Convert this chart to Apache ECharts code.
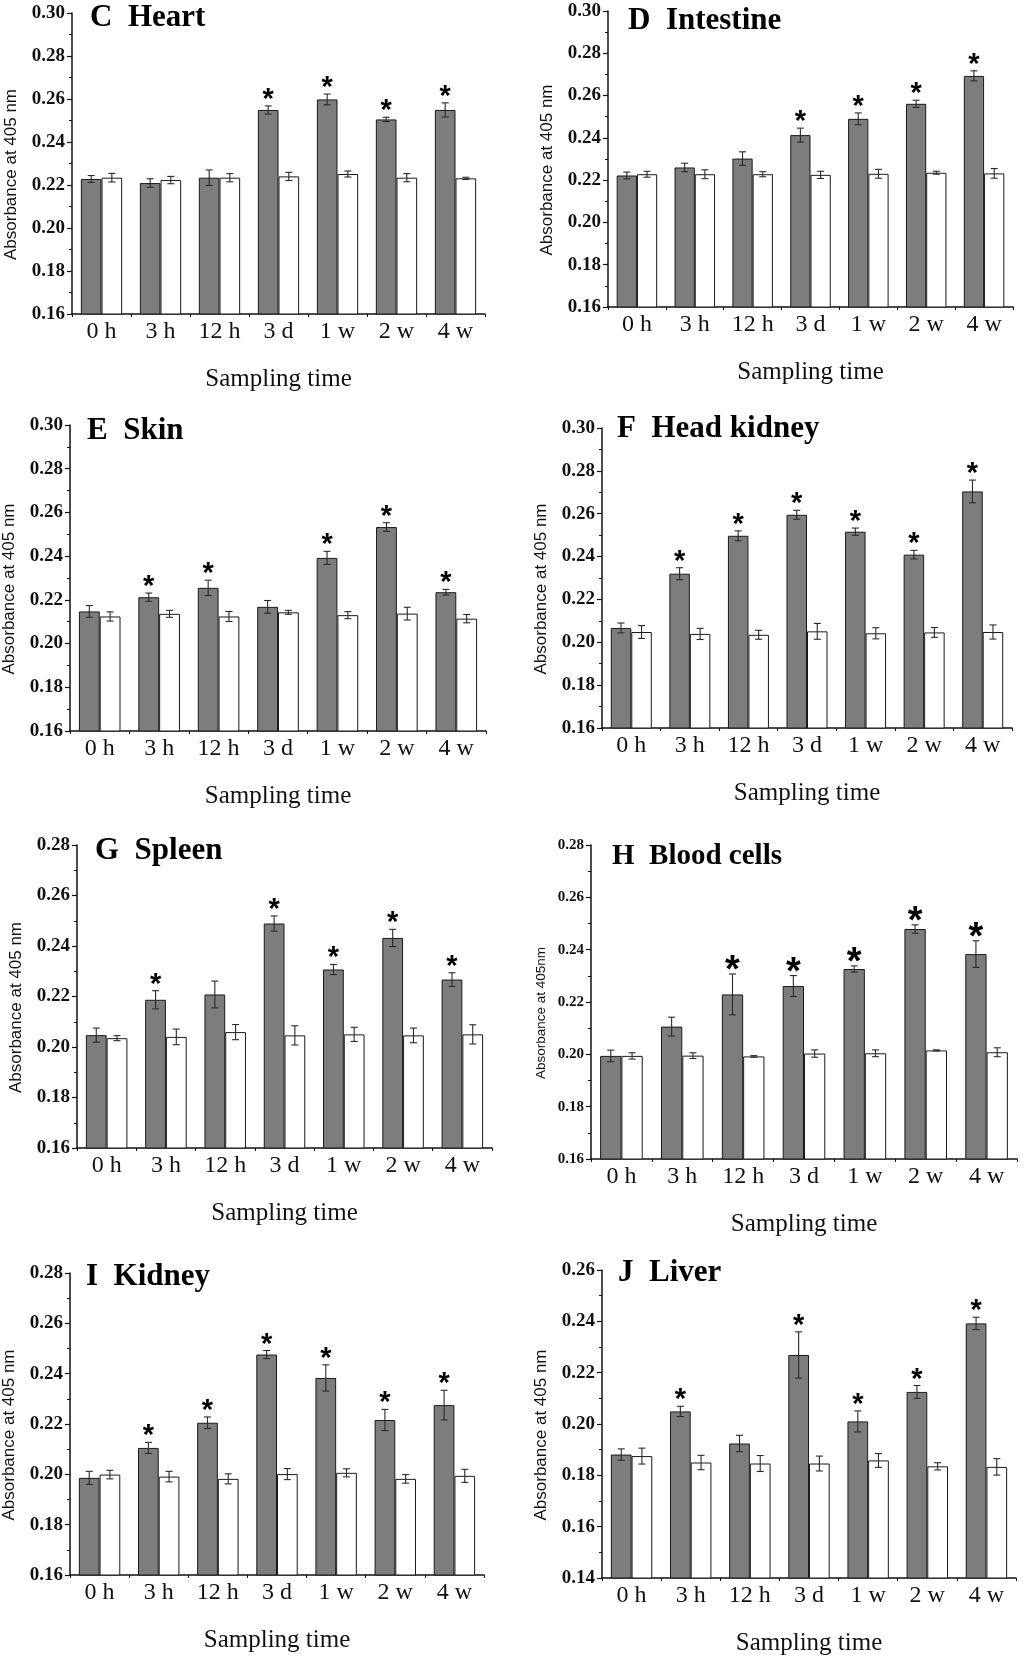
<!DOCTYPE html>
<html><head><meta charset="utf-8">
<script src="https://cdn.jsdelivr.net/npm/echarts@6/dist/echarts.min.js"></script>
<style>html,body{margin:0;padding:0;background:#fff}#c{width:1024px;height:1661px}</style>
</head><body><div id="c"></div><script>
const categories = ['0 h','3 h','12 h','3 d','1 w','2 w','4 w'];

const heartInfected    = [0.2228,0.2209,0.2234,0.2549,0.2598,0.2505,0.2549];
const heartInfectedErr = [0.0016,0.0020,0.0036,0.0019,0.0025,0.0010,0.0033];
const heartControl     = [0.2234,0.2223,0.2234,0.2240,0.2251,0.2234,0.2231];
const heartControlErr  = [0.0020,0.0017,0.0019,0.0019,0.0014,0.0019,0.0005];
const heartSig         = [0,0,0,1,1,1,1];

const intestineInfected    = [0.2222,0.2260,0.2302,0.2413,0.2490,0.2561,0.2693];
const intestineInfectedErr = [0.0016,0.0020,0.0032,0.0033,0.0028,0.0017,0.0024];
const intestineControl     = [0.2228,0.2228,0.2228,0.2225,0.2230,0.2235,0.2232];
const intestineControlErr  = [0.0014,0.0021,0.0012,0.0017,0.0021,0.0007,0.0023];
const intestineSig         = [0,0,0,1,1,1,1];

const skinInfected    = [0.2147,0.2212,0.2255,0.2168,0.2392,0.2533,0.2235];
const skinInfectedErr = [0.0027,0.0019,0.0035,0.0029,0.0030,0.0020,0.0013];
const skinControl     = [0.2124,0.2136,0.2124,0.2143,0.2130,0.2137,0.2114];
const skinControlErr  = [0.0021,0.0016,0.0023,0.0009,0.0016,0.0029,0.0019];
const skinSig         = [0,1,1,0,1,1,1];

const headKidneyInfected    = [0.2067,0.2320,0.2497,0.2595,0.2516,0.2409,0.2704];
const headKidneyInfectedErr = [0.0023,0.0028,0.0023,0.0021,0.0017,0.0020,0.0053];
const headKidneyControl     = [0.2048,0.2039,0.2035,0.2051,0.2042,0.2046,0.2048];
const headKidneyControlErr  = [0.0030,0.0026,0.0021,0.0037,0.0026,0.0023,0.0033];
const headKidneySig         = [0,1,1,1,1,1,1];

const spleenInfected    = [0.2047,0.2187,0.2208,0.2489,0.2307,0.2432,0.2267];
const spleenInfectedErr = [0.0028,0.0036,0.0053,0.0030,0.0020,0.0034,0.0027];
const spleenControl     = [0.2035,0.2040,0.2059,0.2046,0.2050,0.2046,0.2050];
const spleenControlErr  = [0.0010,0.0031,0.0030,0.0038,0.0028,0.0029,0.0038];
const spleenSig         = [0,1,0,1,1,1,1];

const bloodInfected    = [0.1994,0.2106,0.2229,0.2261,0.2326,0.2479,0.2383];
const bloodInfectedErr = [0.0022,0.0036,0.0078,0.0040,0.0012,0.0016,0.0051];
const bloodControl     = [0.1994,0.1995,0.1992,0.2003,0.2004,0.2015,0.2008];
const bloodControlErr  = [0.0012,0.0011,0.0003,0.0014,0.0013,0.0002,0.0017];
const bloodSig         = [0,0,1,1,1,1,1];

const kidneyInfected    = [0.1986,0.2105,0.2205,0.2476,0.2383,0.2216,0.2275];
const kidneyInfectedErr = [0.0026,0.0022,0.0023,0.0016,0.0052,0.0042,0.0059];
const kidneyControl     = [0.1999,0.1991,0.1982,0.2001,0.2006,0.1982,0.1994];
const kidneyControlErr  = [0.0017,0.0021,0.0020,0.0022,0.0016,0.0017,0.0026];
const kidneySig         = [0,1,1,1,1,1,1];

const liverInfected    = [0.1881,0.2049,0.1924,0.2269,0.2010,0.2125,0.2392];
const liverInfectedErr = [0.0022,0.0020,0.0032,0.0090,0.0041,0.0025,0.0024];
const liverControl     = [0.1875,0.1850,0.1846,0.1846,0.1858,0.1835,0.1833];
const liverControlErr  = [0.0031,0.0028,0.0031,0.0029,0.0027,0.0014,0.0032];
const liverSig         = [0,1,0,1,1,1,1];

const panels = [
  {title:'C  Heart', inf:heartInfected, infErr:heartInfectedErr, ctl:heartControl, ctlErr:heartControlErr, sig:heartSig, yMin:0.16, yMax:0.30, yName:'Absorbance at 405 nm'},
  {title:'D  Intestine', inf:intestineInfected, infErr:intestineInfectedErr, ctl:intestineControl, ctlErr:intestineControlErr, sig:intestineSig, yMin:0.16, yMax:0.30, yName:'Absorbance at 405 nm'},
  {title:'E  Skin', inf:skinInfected, infErr:skinInfectedErr, ctl:skinControl, ctlErr:skinControlErr, sig:skinSig, yMin:0.16, yMax:0.30, yName:'Absorbance at 405 nm'},
  {title:'F  Head kidney', inf:headKidneyInfected, infErr:headKidneyInfectedErr, ctl:headKidneyControl, ctlErr:headKidneyControlErr, sig:headKidneySig, yMin:0.16, yMax:0.30, yName:'Absorbance at 405 nm'},
  {title:'G  Spleen', inf:spleenInfected, infErr:spleenInfectedErr, ctl:spleenControl, ctlErr:spleenControlErr, sig:spleenSig, yMin:0.16, yMax:0.28, yName:'Absorbance at 405 nm'},
  {title:'H  Blood cells', inf:bloodInfected, infErr:bloodInfectedErr, ctl:bloodControl, ctlErr:bloodControlErr, sig:bloodSig, yMin:0.16, yMax:0.28, yName:'Absorbance at 405nm'},
  {title:'I  Kidney', inf:kidneyInfected, infErr:kidneyInfectedErr, ctl:kidneyControl, ctlErr:kidneyControlErr, sig:kidneySig, yMin:0.16, yMax:0.28, yName:'Absorbance at 405 nm'},
  {title:'J  Liver', inf:liverInfected, infErr:liverInfectedErr, ctl:liverControl, ctlErr:liverControlErr, sig:liverSig, yMin:0.14, yMax:0.26, yName:'Absorbance at 405 nm'}
];

// layout (pixels)
const STAR = 'bold 29px "Liberation Sans"';
const STAR_H = 'bold 38px "Liberation Sans"';
const layout = [
  {left:72,  top:13,   width:413, height:301, tx:90,  ty:2,    tfs:31, yfs:19, ynfs:17, ygap:52, star:STAR, so:6},
  {left:608, top:11,   width:405, height:296, tx:628, ty:5,    tfs:31, yfs:19, ynfs:17, ygap:52, star:STAR, so:6},
  {left:69,  top:425,  width:417, height:306, tx:87,  ty:415,  tfs:31, yfs:19, ynfs:17, ygap:52, star:STAR, so:6},
  {left:602, top:428,  width:410, height:300, tx:617, ty:413,  tfs:31, yfs:19, ynfs:17, ygap:52, star:STAR, so:6},
  {left:77,  top:845,  width:415, height:303, tx:95,  ty:835,  tfs:31, yfs:19, ynfs:17, ygap:52, star:STAR, so:6},
  {left:591, top:845,  width:426, height:314, tx:612, ty:842,  tfs:29, yfs:15, ynfs:13.5, ygap:43, star:STAR_H, so:2},
  {left:70,  top:1273, width:414, height:302, tx:86,  ty:1261, tfs:31, yfs:19, ynfs:17, ygap:52, star:STAR, so:6},
  {left:602, top:1270, width:414, height:308, tx:618, ty:1257, tfs:31, yfs:19, ynfs:17, ygap:52, star:STAR, so:6}
];

const GAP = 0.30;
function makeErr(side, starFont, so) {
  return function (params, api) {
    const j = api.value(0), v = api.value(1), e = api.value(2), s = api.value(3);
    const band = api.size([1, 0])[0];
    const bw = band * (1 - GAP) / 2;
    const c = api.coord([j, v]);
    const x = c[0] + side * bw / 2;
    const yt = api.coord([j, v + e])[1];
    const yb = api.coord([j, v - e])[1];
    const hw = 3.5;
    const st = {stroke: '#2a2a2a', lineWidth: 1.1};
    const ch = [
      {type: 'line', shape: {x1: x, y1: yt, x2: x, y2: yb}, style: st},
      {type: 'line', shape: {x1: x - hw, y1: yt, x2: x + hw, y2: yt}, style: st},
      {type: 'line', shape: {x1: x - hw, y1: yb, x2: x + hw, y2: yb}, style: st}
    ];
    if (s) ch.push({type: 'text', x: x, y: yt - so, style: {text: '*', fill: '#000', font: starFont, align: 'center', verticalAlign: 'middle'}});
    return {type: 'group', children: ch};
  };
}

const grid = [], xAxis = [], yAxis = [], series = [], title = [];
panels.forEach((p, i) => {
  const L = layout[i];
  grid.push({left: L.left, top: L.top, width: L.width, height: L.height, containLabel: false});
  title.push({text: p.title, left: L.tx, top: L.ty, padding: 0,
    textStyle: {fontFamily: '"Liberation Serif"', fontWeight: 'bold', fontSize: L.tfs, color: '#000'}});
  xAxis.push({gridIndex: i, type: 'category', data: categories, position: 'bottom',
    axisLine: {lineStyle: {color: '#111', width: 1.5}},
    axisTick: {alignWithLabel: true, length: 6, lineStyle: {color: '#111', width: 1.2}},
    axisLabel: {fontFamily: '"Liberation Serif"', fontSize: 24, color: '#111', margin: 6},
    name: 'Sampling time', nameLocation: 'middle', nameGap: 53,
    nameTextStyle: {fontFamily: '"Liberation Serif"', fontSize: 25, color: '#111'}});
  xAxis.push({gridIndex: i, type: 'category', data: categories, position: 'bottom',
    axisLine: {show: false},
    axisTick: {show: true, length: 3, lineStyle: {color: '#111', width: 1}},
    axisLabel: {show: false}});
  yAxis.push({gridIndex: i, type: 'value', min: p.yMin, max: p.yMax, interval: 0.02,
    axisLine: {show: true, lineStyle: {color: '#111', width: 1.5}},
    axisTick: {show: true, length: 5, lineStyle: {color: '#111', width: 1.2}},
    minorTick: {show: true, splitNumber: 2, length: 3, lineStyle: {color: '#111', width: 1}},
    splitLine: {show: false},
    axisLabel: {formatter: v => v.toFixed(2), fontFamily: '"Liberation Serif"', fontWeight: 'bold', fontSize: L.yfs, color: '#111', margin: 7},
    name: p.yName, nameLocation: 'middle', nameGap: L.ygap, nameRotate: 90,
    nameTextStyle: {fontFamily: '"Liberation Sans"', fontSize: L.ynfs, color: '#111', padding: [0, 22, 0, 0]}});
  const xi = i * 2;
  series.push({type: 'bar', xAxisIndex: xi, yAxisIndex: i, data: p.inf, barGap: '0%', barCategoryGap: (GAP * 100) + '%',
    itemStyle: {color: '#7d7d7d', borderColor: '#1a1a1a', borderWidth: 1}, z: 2, silent: true});
  series.push({type: 'bar', xAxisIndex: xi, yAxisIndex: i, data: p.ctl, barGap: '0%', barCategoryGap: (GAP * 100) + '%',
    itemStyle: {color: '#ffffff', borderColor: '#1a1a1a', borderWidth: 1}, z: 2, silent: true});
  series.push({type: 'custom', xAxisIndex: xi, yAxisIndex: i, renderItem: makeErr(-1, L.star, L.so), clip: false, z: 5,
    data: p.inf.map((v, j) => [j, v, p.infErr[j], p.sig[j]])});
  series.push({type: 'custom', xAxisIndex: xi, yAxisIndex: i, renderItem: makeErr(1, L.star, L.so), clip: false, z: 5,
    data: p.ctl.map((v, j) => [j, v, p.ctlErr[j], 0])});
});

const chart = echarts.init(document.getElementById('c'), null, {renderer: 'canvas'});
chart.setOption({animation: false, backgroundColor: '#fff', title, grid, xAxis, yAxis, series});
</script></body></html>
